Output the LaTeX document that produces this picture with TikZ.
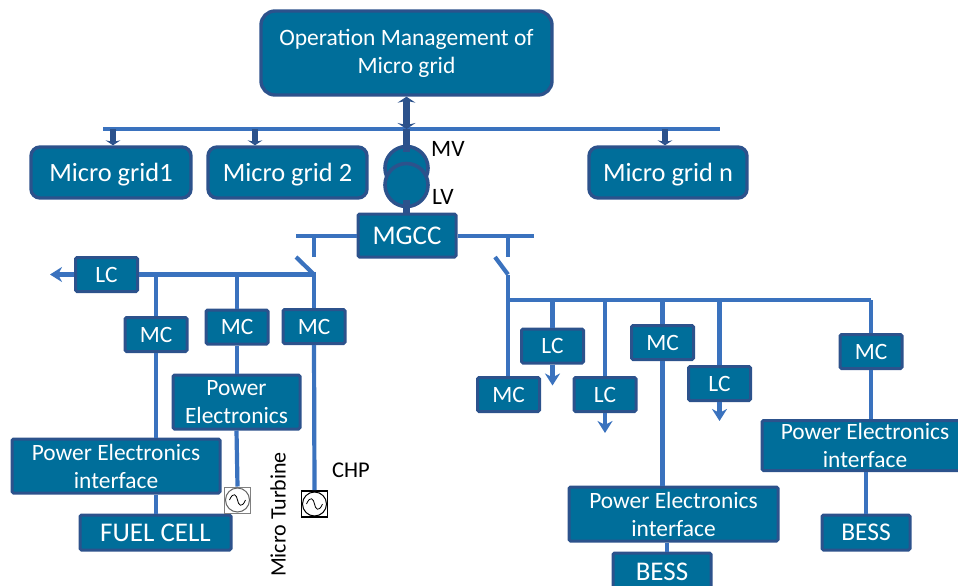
\documentclass[tikz,border=0pt]{standalone}
\usepackage{fontspec}
\setmainfont{Carlito}
\usepackage{tikz}
\usetikzlibrary{arrows.meta, positioning}
\definecolor{boxteal}{RGB}{0, 110, 154}
\definecolor{edgeblue}{RGB}{44, 82, 140}
\definecolor{linkblue}{RGB}{58, 114, 190}

\begin{document}
\begin{tikzpicture}[
  x=1pt, y=-1pt,
  rbox/.style={draw=edgeblue, line width=3.4pt, fill=boxteal, rounded corners=9pt, text=white, align=center, inner sep=0pt, font=\fontsize{26.4}{28}\selectfont, execute at begin node={\rule{0pt}{.86em}}},
  sbox/.style={draw=edgeblue, line width=3pt, fill=boxteal, rounded corners=1.5pt, text=white, align=center, inner sep=0pt, font=\fontsize{23.4}{28}\selectfont},
  pbox/.style={sbox, execute at begin node={\rule{0pt}{.86em}}},
  ctrl/.style={sbox, minimum width=62pt, minimum height=34pt},
  trafo/.style={circle, draw=edgeblue, line width=3.6pt, fill=boxteal, minimum size=43pt, inner sep=0pt},
  gen/.style={draw, minimum size=26pt, inner sep=0pt, fill=white},
  lbl/.style={font=\fontsize{22.5}{25}\selectfont, text=black, inner sep=0pt},
  link/.style={draw=linkblue, line width=4.2pt},
  down/.style={link, -{Stealth[length=12pt, width=15pt]}},
  feed/.style={draw=edgeblue, line width=5.5pt, -{Stealth[length=5pt, width=15pt]}}
]
  \useasboundingbox (0,0) rectangle (958,586);

  % top level
  \node[rbox, minimum width=291pt, minimum height=84pt, rounded corners=14pt, font=\fontsize{23.5}{28}\selectfont, execute at begin node={\rule{0pt}{1.3em}}] (opman) at (406.5,53) {Operation Management of\\Micro grid};
  \node[rbox, minimum width=160pt, minimum height=51pt] (gridone) at (111,172.5) {Micro grid1};
  \node[rbox, minimum width=159pt, minimum height=51pt] (gridtwo) at (287.5,172.5) {Micro grid 2};
  \node[rbox, minimum width=158pt, minimum height=51pt] (gridn) at (668,172.5) {Micro grid n};
  \coordinate (busL) at (103,129);
  \coordinate (busR) at (720,129);
  \draw[link] (busL) -- (busR);
  \coordinate (tapone) at (113,129);
  \coordinate (taptwo) at (255,129);
  \coordinate (tapn) at (665,129);
  \draw[feed] (tapone) -- (tapone |- gridone.north);
  \draw[feed] (taptwo) -- (taptwo |- gridtwo.north);
  \draw[feed] (tapn) -- (tapn |- gridn.north);

  % transformer
  \node[trafo] (mv) at (406.5,168) {};
  \node[trafo] (lv) at (406.5,185) {};
  \node[sbox, minimum width=98pt, minimum height=43pt, font=\fontsize{27}{30}\selectfont] (mgcc) at (407,235.5) {MGCC};
  \coordinate (junc) at (406.5,129);
  \coordinate (mvtop) at (406.5,152);
  \coordinate (lvbot) at (406.5,200);
  \draw[draw=edgeblue, line width=6.5pt, {Stealth[length=6pt, width=18pt]}-{Stealth[length=6pt, width=18pt]}] (opman.south) -- (junc);
  \draw[draw=edgeblue, line width=6.5pt] (junc) -- (mvtop);
  \draw[draw=edgeblue, line width=6.5pt] (lvbot) -- (mgcc.north -| lvbot);
  \node[lbl, anchor=west, font=\fontsize{23.5}{25}\selectfont] (mvtxt) at (431,149) {MV};
  \node[lbl, anchor=west, font=\fontsize{23.5}{25}\selectfont] (lvtxt) at (432,197) {LV};

  % left feeder
  \coordinate (mgl) at (296,236);
  \coordinate (mgr) at (534,236);
  \draw[link] (mgl) -- (mgcc.west |- mgl);
  \draw[link] (mgcc.east |- mgr) -- (mgr);
  \coordinate (stubl) at (314,257);
  \coordinate (stubr) at (508,257);
  \coordinate (blade1) at (296,257);
  \coordinate (hinge1) at (314,274.5);
  \coordinate (blade2) at (495,257);
  \coordinate (hinge2) at (508,274.5);
  \draw[link] (stubl |- mgl) -- (stubl);
  \draw[link] (stubr |- mgr) -- (stubr);
  \draw[link] (blade1) -- (hinge1);
  \draw[link] (blade2) -- (hinge2);

  \node[ctrl] (lcl) at (106.5,274.5) {LC};
  \node[ctrl] (mca) at (156,334.5) {MC};
  \node[ctrl] (mcb) at (237,327) {MC};
  \node[ctrl] (mcc) at (314,326.5) {MC};
  \node[pbox, minimum width=127pt, minimum height=54pt] (pel) at (236.5,402) {Power\\Electronics};
  \node[pbox, minimum width=208pt, minimum height=54pt] (pea) at (116,466) {Power Electronics\\interface};
  \node[sbox, minimum width=151pt, minimum height=35pt, font=\fontsize{27}{28}\selectfont] (fuel) at (155.5,532.5) {FUEL CELL};
  \node[gen, draw=gray, line width=1pt] (gena) at (237.5,500) {};
  \node[gen, draw=black, line width=1.6pt] (genb) at (314.5,504) {};
  \node[circle, draw=gray!80!black, line width=1pt, minimum size=24pt, inner sep=0pt] (cira) at (gena) {};
  \node[circle, draw=black, line width=1pt, minimum size=24pt, inner sep=0pt] (cirb) at (genb) {};
  \foreach \g in {gena,genb}
    \draw[line width=.8pt] ([xshift=-8pt]\g.center) .. controls ([xshift=-4pt,yshift=9pt]\g.center) and ([xshift=-1pt,yshift=5pt]\g.center) .. (\g.center)
      .. controls ([xshift=1pt,yshift=-5pt]\g.center) and ([xshift=4pt,yshift=-9pt]\g.center) .. ([xshift=8pt]\g.center);
  \node[lbl, rotate=90, anchor=center, font=\fontsize{22}{25}\selectfont] (turb) at (278,514.5) {Micro Turbine};
  \node[lbl, anchor=west] (chp) at (332,470) {CHP};

  \draw[link, -{Stealth[length=12pt, width=15pt]}] (lcl.west) -- +(-24,0);
  \draw[link] (lcl.east) -- (hinge1) -- (mcc.north);
  \draw[link] (mcc.south) -- (genb.north);
  \draw[link] (mca.north) -- (mca.north |- lcl.east);
  \draw[link] (mca.south) -- (mca.south |- pea.north);
  \draw[link] (mca.south |- pea.south) -- (mca.south |- fuel.north);
  \draw[link] (mcb.north) -- (mcb.north |- lcl.east);
  \draw[link] (mcb.south) -- (mcb.south |- pel.north);
  \draw[link] (pel.south) -- (gena.north);

  % right feeder
  \coordinate (rbusR) at (871,300);
  \coordinate (rbusL) at (508,300);
  \draw[link] (hinge2) -- (rbusL) -- (rbusR);

  \node[ctrl] (mcd) at (508.5,394.5) {MC};
  \node[ctrl] (lca) at (552.5,346) {LC};
  \node[ctrl] (lcb) at (605,394.5) {LC};
  \node[ctrl] (mce) at (662.5,342.5) {MC};
  \node[ctrl] (lcc) at (719.5,383.5) {LC};
  \node[ctrl] (mcf) at (871,351.5) {MC};
  \node[pbox, minimum width=209pt, minimum height=54pt] (peb) at (673.5,514) {Power Electronics\\interface};
  \node[pbox, minimum width=206pt, minimum height=50pt] (pec) at (865,445.5) {Power Electronics\\interface};
  \node[sbox, minimum width=98pt, minimum height=38pt, font=\fontsize{27}{28}\selectfont] (bessa) at (662,572) {BESS};
  \node[sbox, minimum width=88pt, minimum height=35pt, font=\fontsize{25.5}{28}\selectfont] (bessb) at (866,532.5) {BESS};

  \draw[link] (rbusL) -- (mcd.north -| rbusL);
  \draw[link] (lca.north |- rbusL) -- (lca.north);
  \draw[link] (lcb.north |- rbusL) -- (lcb.north);
  \draw[link] (mce.north |- rbusL) -- (mce.north);
  \draw[link] (lcc.north |- rbusL) -- (lcc.north);
  \draw[link] (mcf.north |- rbusL) -- (mcf.north);
  \draw[down] (lca.south) -- +(0,21);
  \draw[down] (lcb.south) -- +(0,20);
  \draw[down] (lcc.south) -- +(0,19);
  \draw[link] (mce.south) -- (mce.south |- peb.north);
  \draw[link] ([xshift=5pt]bessa.north |- peb.south) -- ([xshift=5pt]bessa.north);
  \draw[link] (mcf.south) -- (mcf.south |- pec.north);
  \draw[link] (bessb.north |- pec.south) -- (bessb.north);
\end{tikzpicture}
\end{document}
